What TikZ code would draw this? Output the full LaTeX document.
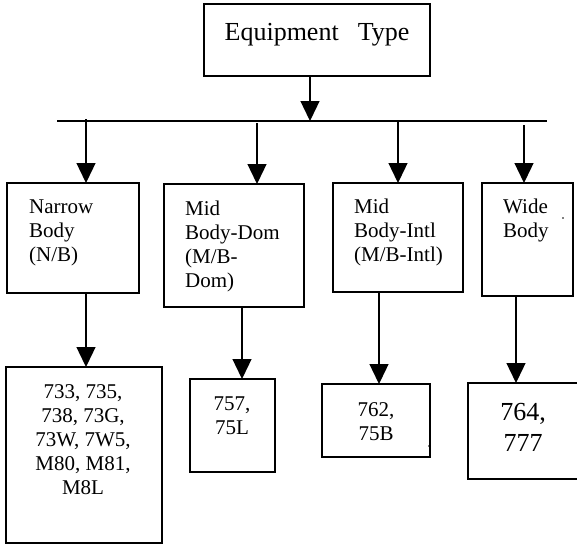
\documentclass[tikz,border=0pt]{standalone}
\usepackage{fontspec}
\setmainfont{Liberation Serif}
\usetikzlibrary{arrows.meta}
\begin{document}
\begin{tikzpicture}[x=1pt,y=-1pt,
  box/.style={draw,line width=1.3pt,inner sep=0pt,outer sep=0pt},
  conn/.style={line width=1.3pt,-{Triangle[length=20pt,width=19pt]}},
  bar/.style={line width=1.3pt},
  lbl/.style={inner sep=0pt,font=\fontsize{21}{24}\selectfont,align=left,anchor=north west},
  clbl/.style={inner sep=0pt,font=\fontsize{21}{24}\selectfont,align=center,anchor=north},
  blbl/.style={inner sep=0pt,font=\fontsize{26}{31}\selectfont,align=center,anchor=north}]
\useasboundingbox (0,0) rectangle (577,544);
\clip (0,0) rectangle (577,544);
% boxes
\node[box,minimum width=226pt,minimum height=72pt] (top) at (317,40) {};
\node[box,minimum width=132pt,minimum height=110pt] (nb) at (73,238) {};
\node[box,minimum width=140pt,minimum height=123pt] (md) at (234,245.5) {};
\node[box,minimum width=130pt,minimum height=109pt] (mi) at (398,237.5) {};
\node[box,minimum width=91pt,minimum height=113pt] (wb) at (527.5,239.5) {};
\node[box,minimum width=156pt,minimum height=176pt] (nb2) at (84,455) {};
\node[box,minimum width=85pt,minimum height=93pt] (md2) at (232.5,425.5) {};
\node[box,minimum width=108pt,minimum height=73pt] (mi2) at (376,420.5) {};
\node[box,minimum width=132pt,minimum height=96pt] (wb2) at (534,431) {};
% texts
\node[blbl] (ttop) at (317,18.3) {\strut Equipment\hspace{19pt}Type};
\node[lbl] (tnb) at (29,196.2) {\strut Narrow\\Body\\(N/B)};
\node[lbl] (tmd) at (185,198.2) {\strut Mid\\Body-Dom\\(M/B-\\Dom)};
\node[lbl] (tmi) at (354,196.2) {\strut Mid\\Body-Intl\\(M/B-Intl)};
\node[lbl] (twb) at (503,196.2) {\strut Wide\\Body};
\node[clbl] (tnb2) at (83,381.2) {\strut 733, 735,\\738, 73G,\\73W, 7W5,\\M80, M81,\\M8L};
\node[clbl] (tmd2) at (232,393.2) {\strut 757,\\75L};
\node[clbl] (tmi2) at (376,399.2) {\strut 762,\\75B};
\node[blbl] (twb2) at (523,398.3) {\strut 764,\\777};
% bar and arrows
\coordinate (bl) at (57,121);
\coordinate (br) at (547,121);
\coordinate (j0) at (310,121);
\draw[bar] (bl) -- (br);
\draw[conn] (top.south -| j0) -- (j0);
\coordinate (s1) at (86,119);
\coordinate (s2) at (257,123);
\coordinate (s3) at (398,122);
\coordinate (s4) at (524,125);
\draw[conn] (s1) -- (s1 |- nb.north);
\draw[conn] (s2) -- (s2 |- md.north);
\draw[conn] (s3) -- (s3 |- mi.north);
\draw[conn] (s4) -- (s4 |- wb.north);
\coordinate (c1) at (86,0);
\coordinate (c2) at (242,0);
\coordinate (c3) at (379,0);
\coordinate (c4) at (516,0);
\draw[conn] (nb.south -| c1) -- (nb2.north -| c1);
\draw[conn] (md.south -| c2) -- (md2.north -| c2);
\draw[conn] (mi.south -| c3) -- (mi2.north -| c3);
\draw[conn] (wb.south -| c4) -- (wb2.north -| c4);
% stray dots
\fill (563,218) circle (0.9pt);
\fill (429,446) circle (0.9pt);
\end{tikzpicture}
\end{document}
